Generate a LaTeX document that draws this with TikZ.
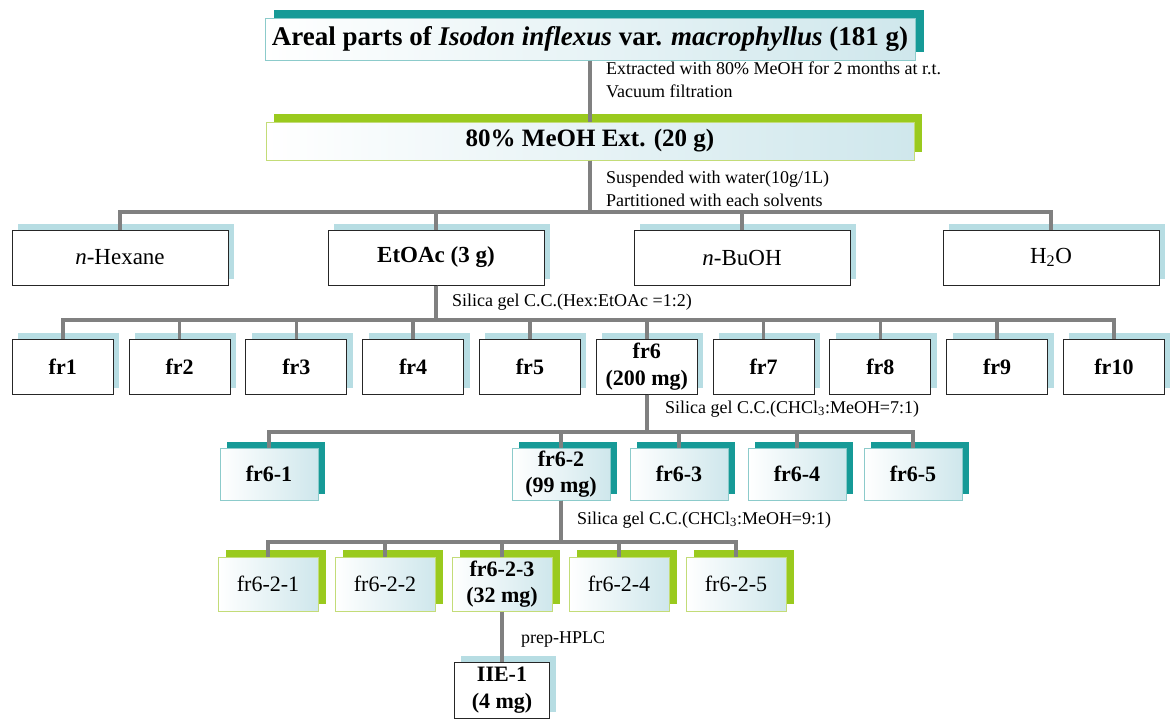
\documentclass[tikz,border=0pt]{standalone}
\usepackage{fontspec}
\setmainfont{Liberation Serif}
\usetikzlibrary{shadows,calc}
\definecolor{conngray}{HTML}{808080}
\definecolor{tealshade}{HTML}{169A97}
\definecolor{limeshade}{HTML}{9ACA1E}
\definecolor{paleshade}{HTML}{B7DDE3}
\definecolor{tint}{HTML}{CFE7EC}
\definecolor{limeedge}{HTML}{C3DC78}
\definecolor{tealedge}{HTML}{8CCBCB}
\begin{document}
\begin{tikzpicture}[x=1pt,y=-1pt,
  every node/.style={inner sep=0pt, align=center},
  conn/.style={draw=conngray, line width=3.5pt},
  note/.style={anchor=west, align=left, font=\fontsize{18}{23}\selectfont},
  plainbox/.style={draw=black!85, line width=1pt, fill=white,
    general shadow={fill=paleshade, shadow xshift=6pt, shadow yshift=6pt}},
  titlebox/.style={draw=tealedge, line width=1pt, left color=white, right color=tint,
    general shadow={fill=tealshade, shadow xshift=9pt, shadow yshift=8pt},
    font=\bfseries\fontsize{27}{30}\selectfont},
  extbox/.style={draw=limeedge, line width=1pt, left color=white, right color=tint,
    general shadow={fill=limeshade, shadow xshift=8pt, shadow yshift=8pt},
    font=\bfseries\fontsize{25}{28}\selectfont},
  tealbox/.style={draw=tealedge, line width=1pt, left color=white, right color=tint,
    general shadow={fill=tealshade, shadow xshift=7pt, shadow yshift=6pt},
    minimum width=98pt, minimum height=52pt, font=\bfseries\fontsize{22}{26}\selectfont},
  limebox/.style={draw=limeedge, line width=1pt, left color=white, right color=tint,
    general shadow={fill=limeshade, shadow xshift=8pt, shadow yshift=7pt},
    minimum width=100pt, minimum height=54pt, font=\fontsize{22}{26}\selectfont},
  solvbox/.style={plainbox, minimum width=216pt, minimum height=55pt, font=\fontsize{23}{26}\selectfont},
  frbox/.style={plainbox, minimum width=101pt, minimum height=55pt, font=\bfseries\fontsize{22}{27}\selectfont},
]
\path[use as bounding box, fill=white] (0,0) rectangle (1173,720);

% crude material and extract
\node[titlebox, minimum width=650pt, minimum height=42pt] (src) at (590,39)
  {Areal parts of \textit{Isodon inflexus} var. \textit{macrophyllus} (181 g)};
\node[extbox, minimum width=648pt, minimum height=38pt] (ext) at (590,141)
  {80\% MeOH Ext. (20 g)};

% solvent partition
\node[solvbox] (hex)   at (120,257.5)  {\textit{n}-Hexane};
\node[solvbox, font=\bfseries\fontsize{23}{26}\selectfont] (etoac) at (436,257.5) {EtOAc (3 g)};
\node[solvbox] (buoh)  at (742,257.5)  {\textit{n}-BuOH};
\node[solvbox] (water) at (1051,257.5) {H\textsubscript{2}O};

% silica gel fractions of the EtOAc layer
\foreach \i in {1,...,10}{
  \ifnum\i=6\else
    \node[frbox] (fr\i) at ({62.75+116.8*(\i-1)},366.5) {fr\i};
  \fi
}
\node[frbox] (fr6) at (646.75,366.5) {fr6\\(200 mg)};

% fractions of fr6
\node[tealbox] (f61) at (269,474) {fr6-1};
\node[tealbox] (f62) at (561,474) {fr6-2\\(99 mg)};
\node[tealbox] (f63) at (679,474) {fr6-3};
\node[tealbox] (f64) at (797,474) {fr6-4};
\node[tealbox] (f65) at (913,474) {fr6-5};

% fractions of fr6-2
\node[limebox] (f621) at (268,584) {fr6-2-1};
\node[limebox] (f622) at (385,584) {fr6-2-2};
\node[limebox, font=\bfseries\fontsize{22}{26}\selectfont] (f623) at (502,584) {fr6-2-3\\(32 mg)};
\node[limebox] (f624) at (619,584) {fr6-2-4};
\node[limebox] (f625) at (736,584) {fr6-2-5};

% isolated compound
\node[plainbox, minimum width=95pt, minimum height=56pt, font=\bfseries\fontsize{22}{27}\selectfont] (iie) at (502,690) {IIE-1\\(4 mg)};

% branching levels
\coordinate (b1) at (0,212);
\coordinate (b2) at (0,320);
\coordinate (b3) at (0,432);
\coordinate (b4) at (0,542);

% connectors
\draw[conn] (src.south) -- (ext.north);
\foreach \c in {hex,etoac,buoh,water}
  \draw[conn] (ext.south) -- (ext.south |- b1) -| (\c.north);
\foreach \c in {fr1,fr2,fr3,fr4,fr5,fr6,fr7,fr8,fr9,fr10}
  \draw[conn] (etoac.south) -- (etoac.south |- b2) -| (\c.north);
\foreach \c in {f61,f62,f63,f64,f65}
  \draw[conn] (fr6.south) -- (fr6.south |- b3) -| (\c.north);
\foreach \c in {f621,f622,f623,f624,f625}
  \draw[conn] (f62.south) -- (f62.south |- b4) -| (\c.north);
\draw[conn] (f623.south) -- (iie.north);

% procedure notes
\node[note] (n1) at (606,80) {Extracted with 80\% MeOH for 2 months at r.t.\\Vacuum filtration};
\node[note] (n2) at (606,189) {Suspended with water(10g/1L)\\Partitioned with each solvents};
\node[note] (n3) at (452,302) {Silica gel C.C.(Hex:EtOAc =1:2)};
\node[note] (n4) at (665,409) {Silica gel C.C.(CHCl\textsubscript{3}:MeOH=7:1)};
\node[note] (n5) at (577,520) {Silica gel C.C.(CHCl\textsubscript{3}:MeOH=9:1)};
\node[note] (n6) at (521,639) {prep-HPLC};
\end{tikzpicture}
\end{document}
